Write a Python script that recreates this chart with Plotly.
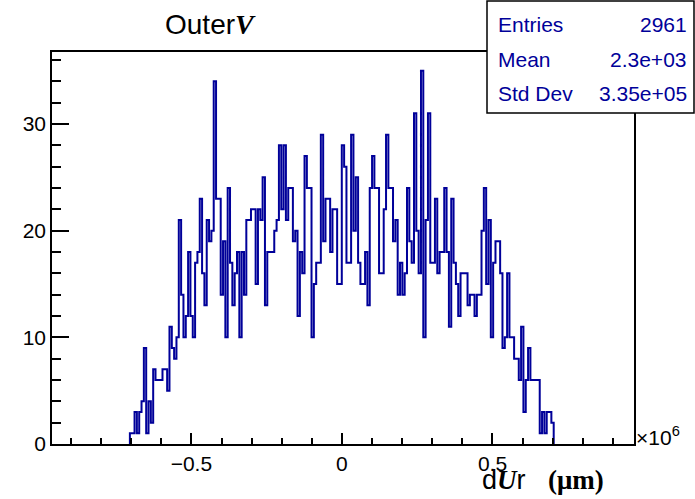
import plotly.graph_objects as go

# ---- data (x in units of 1e6 um) ----
bin_low = -0.7043          # lower edge of first non-empty bin
bin_width = 0.007734       # bin width
counts = [
    1, 1, 3, 1, 3, 4, 9, 1, 4, 2,
    7, 6, 6, 6, 7, 7, 5, 11, 9, 8,
    10, 21, 14, 10, 12, 18, 12, 10, 17, 18,
    23, 16, 13, 21, 19, 20, 34, 23, 23, 14,
    19, 10, 24, 17, 13, 16, 18, 10, 18, 14,
    21, 21, 22, 22, 15, 22, 21, 25, 13, 18,
    18, 18, 20, 21, 28, 22, 28, 21, 24, 24,
    19, 20, 12, 18, 16, 27, 24, 24, 10, 15,
    17, 17, 29, 19, 23, 23, 18, 22, 22, 15,
    15, 28, 26, 17, 17, 29, 20, 25, 17, 15,
    15, 18, 13, 24, 27, 24, 24, 16, 16, 22,
    29, 24, 24, 19, 21, 14, 17, 14, 16, 24,
    19, 17, 31, 20, 16, 35, 10, 21, 31, 17,
    17, 23, 16, 18, 18, 24, 18, 11, 23, 17,
    15, 12, 16, 16, 16, 13, 14, 14, 12, 14,
    14, 20, 24, 15, 21, 10, 17, 19, 19, 16,
    9, 10, 16, 10, 10, 8, 8, 6, 11, 3,
    6, 9, 6, 6, 6, 6, 1, 3, 1, 3, 3, 2,
]
x_range = [-0.963, 0.970]
y_range = [0, 36.75]
x_tickvals = [-0.5, 0, 0.5]
x_ticktext = ["\u22120.5", "0", "0.5"]
y_tickvals = [0, 10, 20, 30]
y_ticktext = ["0", "10", "20", "30"]
stats_labels = ["Entries", "Mean", "Std Dev"]
stats_values = ["2961", "2.3e+03", "3.35e+05"]

# step outline built from bin edges
edges = [bin_low + i * bin_width for i in range(len(counts) + 1)]
xs_step = [edges[0]] + edges + [edges[-1]]
ys_step = [0] + counts + [counts[-1], 0]

HIST = "#000099"
SANS = "Liberation Sans, Arial, sans-serif"

fig = go.Figure()
fig.add_trace(go.Scatter(
    x=xs_step, y=ys_step, mode="lines",
    line=dict(color=HIST, width=2, shape="hv"),
    hoverinfo="skip", showlegend=False,
))

W, H = 695, 499
L, R, T, B = 52, 634, 52, 444

def px(xp):
    return (xp - L) / (R - L)

def py(yp):
    return (B - yp) / (B - T)

fig.update_layout(
    width=W, height=H,
    margin=dict(l=L, r=W - R, t=T, b=H - B, pad=0),
    paper_bgcolor="white", plot_bgcolor="white",
    showlegend=False,
    font=dict(family=SANS, size=20, color="black"),
)
fig.update_xaxes(
    range=x_range, showgrid=False, zeroline=False,
    showline=True, linecolor="black", linewidth=1.5, mirror=True,
    tickvals=x_tickvals, ticktext=x_ticktext,
    ticks="inside", ticklen=11, tickwidth=1.5, tickcolor="black",
    minor=dict(ticks="inside", ticklen=6, dtick=0.1, tick0=0, tickwidth=1.5, tickcolor="black", showgrid=False),
    tickfont=dict(family=SANS, size=21, color="black"),
)
fig.update_yaxes(
    range=y_range, showgrid=False, zeroline=False,
    showline=True, linecolor="black", linewidth=1.5, mirror=True,
    tickvals=y_tickvals, ticktext=y_ticktext,
    ticks="inside", ticklen=17, tickwidth=1.5, tickcolor="black",
    minor=dict(ticks="inside", ticklen=9, dtick=2, tick0=0, tickwidth=1.5, tickcolor="black", showgrid=False),
    tickfont=dict(family=SANS, size=21, color="black"),
)

# stats box
fig.add_shape(type="rect", xref="paper", yref="paper",
              x0=px(487), x1=px(694), y0=py(113), y1=py(1),
              line=dict(color="black", width=1.5), fillcolor="white", layer="above")
for i, (lab, val) in enumerate(zip(stats_labels, stats_values)):
    yc = 24 + i * 35
    fig.add_annotation(xref="paper", yref="paper", x=px(496), y=py(yc),
                       text=lab, showarrow=False, xanchor="left", yanchor="middle",
                       font=dict(family=SANS, size=21, color=HIST))
    fig.add_annotation(xref="paper", yref="paper", x=px(689), y=py(yc),
                       text=val, showarrow=False, xanchor="right", yanchor="middle",
                       font=dict(family=SANS, size=21, color=HIST))

# title
fig.add_annotation(xref="paper", yref="paper", x=px(163), y=py(25),
                   text="Outer<span style=\"font-family:'Liberation Serif'\"><b><i>V</i></b></span>",
                   showarrow=False, xanchor="left", yanchor="middle",
                   font=dict(family=SANS, size=28, color="black"))

# x-axis title
fig.add_annotation(xref="paper", yref="paper", x=px(606), y=py(480),
                   text="d<span style=\"font-family:'Liberation Serif'\"><b><i>U</i></b></span>r\u00a0\u00a0\u00a0"
                        "<span style=\"font-family:'Liberation Serif'\"><b>(\u03bcm)</b></span>",
                   showarrow=False, xanchor="right", yanchor="middle",
                   font=dict(family=SANS, size=27, color="black"))

# exponent label
fig.add_annotation(xref="paper", yref="paper", x=px(634), y=py(436),
                   text="\u00d710<sup>6</sup>", showarrow=False, xanchor="left", yanchor="middle",
                   font=dict(family=SANS, size=21, color="black"))

fig.write_html("out.html", config={"displayModeBar": False},
               post_script="document.body.style.margin='0px';")
